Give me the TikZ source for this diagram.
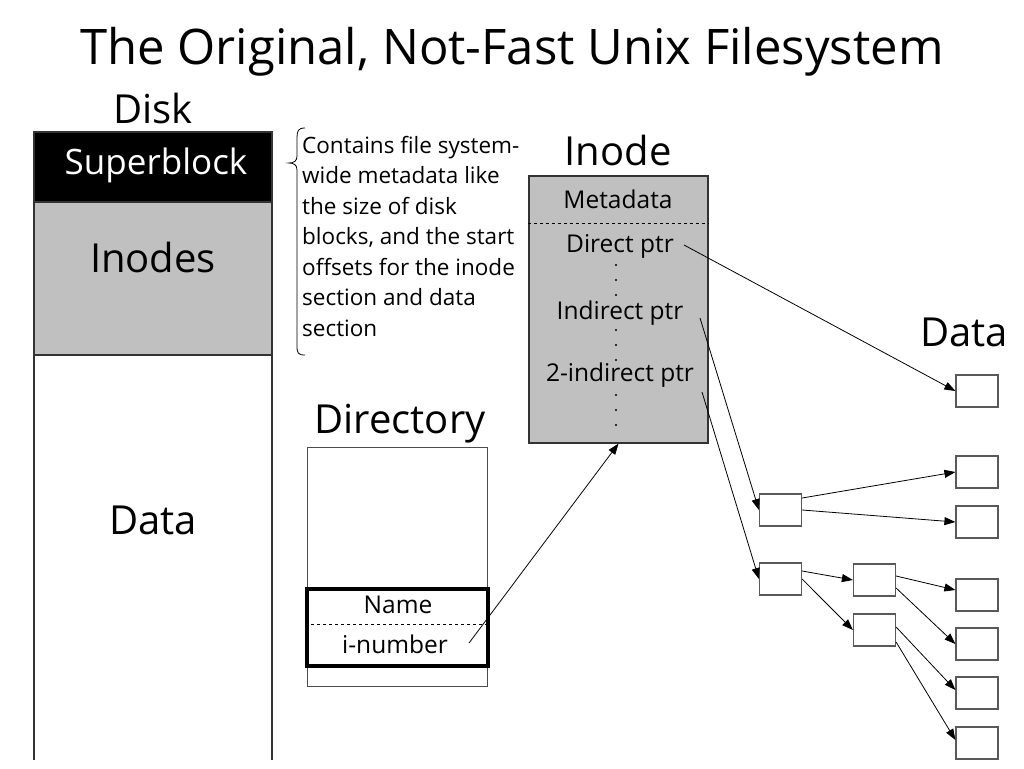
\documentclass[tikz,border=0pt]{standalone}
\usepackage{fontspec}
\setmainfont{Open Sans}
\usetikzlibrary{arrows.meta}
\definecolor{cellgray}{RGB}{192,192,192}
\tikzset{
  blk/.style={draw=black!65,line width=1.2pt,fill=white,minimum width=42pt,minimum height=32pt,inner sep=0pt},
  ptr/.style={-{Triangle[length=11pt,width=8pt]},line width=0.8pt},
  big/.style={font=\fontsize{40}{48}\selectfont,inner sep=0pt},
  mid/.style={font=\fontsize{24.5}{28}\selectfont,inner sep=0pt},
}
\begin{document}
\begin{tikzpicture}[x=1pt,y=-1pt]
  \useasboundingbox (0,0) rectangle (1024,768);
  \node[font=\fontsize{49}{56}\selectfont,inner sep=0pt] (title) at (512,52) {The Original, Not-Fast Unix Filesystem};

  % disk layout
  \node[big] (disklbl) at (153,108) {Disk};
  \fill (34,132) rectangle (272,202);
  \fill[cellgray] (34,202) rectangle (272,355);
  \draw[black!80,line width=1.2pt] (34,760) -- (34,132) -- (272,132) -- (272,760)
      (34,202) -- (272,202) (34,355) -- (272,355);
  \node[big,text=white,font=\fontsize{35}{42}\selectfont] (super) at (156,165) {Superblock};
  \node[big] (inodes) at (153,257) {Inodes};
  \node[big] (diskdata) at (153,520) {Data};

  % brace and note
  \draw[line width=0.8pt] (305,128) .. controls (298,128) and (297,131) .. (297,138) -- (297,156)
      .. controls (297,161) and (294,163) .. (289,163)
      .. controls (294,163) and (297,165) .. (297,170) -- (297,346)
      .. controls (297,353) and (298,355) .. (305,355);
  \node[font=\fontsize{22.5}{30.5}\selectfont,align=left,anchor=north west,inner sep=0pt] (note) at (302,136)
      {Contains file system-\\wide metadata like\\the size of disk\\blocks, and the start\\offsets for the inode\\section and data\\section};

  % inode
  \node[big] (inodelbl) at (618,150) {Inode};
  \node[draw=black!80,fill=cellgray,line width=1.2pt,minimum width=179pt,minimum height=267pt,inner sep=0pt] (inode) at (618.5,309.5) {};
  \draw[dashed,line width=0.8pt] (inode.west |- 0,223) -- (inode.east |- 0,223);
  \node[mid] (metadata) at (618,199) {Metadata};
  \node[mid] (dptr) at (620,246) {Direct ptr};
  \node[mid] (iptr) at (620,313) {Indirect ptr};
  \node[mid] (diptr) at (620,375) {2-indirect ptr};
  \foreach \y in {265,280,295,330,345,360,395,410,425}
    \fill (616,\y) circle (1.2);
  \coordinate (dptrend) at (684,245);
  \coordinate (iptrend) at (700,318);
  \coordinate (diptrend) at (702,392);

  % directory
  \node[big] (dirlbl) at (400,424) {Directory};
  \node[draw=black!70,line width=0.8pt,minimum width=180pt,minimum height=239pt,inner sep=0pt] (dir) at (397,566.5) {};
  \node[draw,line width=3.2pt,minimum width=181pt,minimum height=77pt,inner sep=0pt] (entry) at (397.5,627.5) {};
  \draw[dashed,line width=0.8pt] (entry.west |- 0,624) -- (entry.east |- 0,624);
  \node[mid] (name) at (398,605) {Name};
  \node[mid] (inum) at (395,644) {i-number};
  \coordinate (inumend) at (469,643);

  % data blocks
  \node[big] (datalbl) at (964,332) {Data};
  \node[blk] (d1) at (977,391) {};
  \node[blk] (d2) at (977,472) {};
  \node[blk] (d3) at (977,522) {};
  \node[blk] (d4) at (977,595) {};
  \node[blk] (d5) at (977,644) {};
  \node[blk] (d6) at (977,693) {};
  \node[blk] (d7) at (977,743) {};
  \node[blk] (i1) at (780.5,510) {};
  \node[blk] (i2) at (780.5,579) {};
  \node[blk] (i3) at (874.5,580) {};
  \node[blk] (i4) at (874.5,630) {};

  % pointers
  \draw[ptr] (inumend) -- (inode.south);
  \draw[ptr] (dptrend) -- (d1.west);
  \draw[ptr] (iptrend) -- (i1.west);
  \draw[ptr] (diptrend) -- (i2.west);
  \draw[ptr] ([yshift=12pt]i1.east) -- (d2.west);
  \draw[ptr] (i1.east) -- (d3.west);
  \draw[ptr] ([yshift=8pt]i2.east) -- (i3.west);
  \draw[ptr] (i2.east) -- (i4.west);
  \draw[ptr] ([yshift=4pt]i3.east) -- ([yshift=5pt]d4.west);
  \draw[ptr] ([yshift=-8pt]i3.east) -- (d5.west);
  \draw[ptr] ([yshift=3pt]i4.east) -- ([yshift=3pt]d6.west);
  \draw[ptr] ([yshift=-12pt]i4.east) -- ([yshift=3pt]d7.west);
\end{tikzpicture}
\end{document}
